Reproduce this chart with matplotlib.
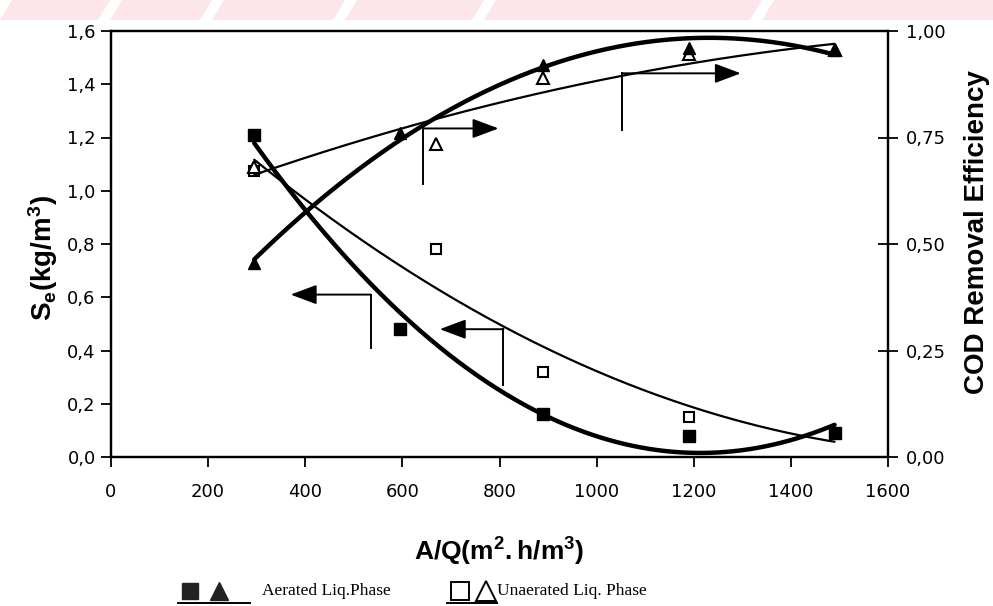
import numpy as np
import matplotlib.pyplot as plt
from matplotlib.lines import Line2D
from matplotlib.patches import Polygon
from matplotlib.ticker import FixedLocator, FuncFormatter

# A/Q (m2.h/m3) for the two runs
aq_aer = [295, 595, 890, 1190, 1490]
aq_unaer = [295, 670, 890, 1190, 1490]

# effluent COD Se (kg/m3)
se_aer = [1.21, 0.48, 0.16, 0.078, 0.09]
se_unaer = [1.074, 0.78, 0.32, 0.149, 0.09]

# COD removal efficiency
eff_aer = [0.455, 0.76, 0.92, 0.96, 0.955]
eff_unaer = [0.68, 0.735, 0.89, 0.945, 0.955]

x_ticks = [0, 200, 400, 600, 800, 1000, 1200, 1400, 1600]
se_ticks = [0.0, 0.2, 0.4, 0.6, 0.8, 1.0, 1.2, 1.4, 1.6]
eff_ticks = [0.0, 0.25, 0.50, 0.75, 1.00]

legend_labels = ["Aerated Liq.Phase", "Unaerated Liq. Phase"]

W, H = 993, 606
plt.rcParams['mathtext.fontset'] = 'custom'
plt.rcParams['mathtext.rm'] = 'Liberation Sans'
plt.rcParams['mathtext.bf'] = 'Liberation Sans:bold'

fig = plt.figure(figsize=(W / 100, H / 100), dpi=100)


def px(x, y):
    # pixel position -> figure fraction
    return x / W, 1 - y / H


# faint pink stripes along the top edge
pink = '#fce6e9'
cuts = [0, 110, 212, 345, 484, 762, 1010]
for i in range(len(cuts) - 1):
    a, b = cuts[i] + 12, cuts[i + 1]
    pts = [px(a, 0), px(b, 0), px(b - 12, 20), px(a - 12, 20)]
    fig.add_artist(Polygon(pts, closed=True, facecolor=pink, edgecolor='none',
                           transform=fig.transFigure, zorder=0))

L, R, T, B = 111, 888, 31, 457
ax = fig.add_axes([L / W, 1 - B / H, (R - L) / W, (B - T) / H])
ax2 = ax.twinx()

ax.set_xlim(0, 1600)
ax.set_ylim(0, 1.6)
ax2.set_ylim(0, 1.0)


def trend(axis, x, y, lw):
    c = np.polyfit(x, y, 2)
    xs = np.linspace(min(x), max(x), 300)
    axis.plot(xs, np.polyval(c, xs), color='black', lw=lw, solid_capstyle='round')


trend(ax, aq_aer, se_aer, 3.2)
trend(ax, aq_unaer, se_unaer, 1.6)
trend(ax2, aq_aer, eff_aer, 3.2)
trend(ax2, aq_unaer, eff_unaer, 1.6)

ax.plot(aq_unaer, se_unaer, 's', ms=7.5, mfc='white', mec='black', mew=1.5, zorder=4)
ax.plot(aq_aer, se_aer, 's', ms=8.5, color='black', zorder=5)
ax2.plot(aq_unaer, eff_unaer, '^', ms=9, mfc='white', mec='black', mew=1.5, zorder=4)
ax2.plot(aq_aer, eff_aer, '^', ms=9, color='black', zorder=5)


def l_arrow(x0, y_top, y_bot, x_tip):
    ax.plot([x0, x0], [y_bot, y_top], color='black', lw=1.4)
    ax.annotate('', xy=(x_tip, y_top), xytext=(x0, y_top),
                arrowprops=dict(arrowstyle='-|>,head_length=0.8,head_width=0.3',
                                color='black', lw=1.4, shrinkA=0, shrinkB=0,
                                mutation_scale=20))


l_arrow(643, 1.234, 1.027, 798)
l_arrow(1052, 1.441, 1.228, 1297)
l_arrow(535, 0.61, 0.41, 370)
l_arrow(808, 0.48, 0.27, 677)

comma = FuncFormatter(lambda v, p: ('%.1f' % v).replace('.', ','))
comma2 = FuncFormatter(lambda v, p: ('%.2f' % v).replace('.', ','))
ax.xaxis.set_major_locator(FixedLocator(x_ticks))
ax.yaxis.set_major_locator(FixedLocator(se_ticks))
ax.yaxis.set_major_formatter(comma)
ax2.yaxis.set_major_locator(FixedLocator(eff_ticks))
ax2.yaxis.set_major_formatter(comma2)

for lab in ax.get_xticklabels() + ax.get_yticklabels() + ax2.get_yticklabels():
    lab.set_fontfamily('DejaVu Sans')
    lab.set_fontsize(13)

ax.tick_params(axis='x', direction='out', length=7, width=1.3, pad=12)
ax.tick_params(axis='y', direction='out', length=7, width=1.3, pad=4)
ax2.tick_params(axis='y', direction='inout', length=14, width=1.3, pad=6)
for a in (ax, ax2):
    for s in a.spines.values():
        s.set_linewidth(1.6)

lab_font = dict(family='Liberation Sans', weight='bold')
ax.set_ylabel(r'$\mathbf{S_e(kg/m^3)}$', size=20, va='center', **lab_font)
ax.yaxis.set_label_coords(-0.088, 0.467)
ax2.set_ylabel('COD Removal Efficiency', rotation=90, size=20, va='center', **lab_font)
ax2.yaxis.set_label_coords(1.114, 0.528)
ax.set_xlabel(r'$\mathbf{A/Q(m^2{.}h/m^3)}$', size=19, **lab_font)
ax.xaxis.set_label_coords(0.5, -0.185)

# legend row below the x label
ly = 591
serif = dict(family='Liberation Serif', size=12.5)
fig.add_artist(Line2D(*zip(px(190, ly)), marker='s', ms=12, color='#222222',
                      transform=fig.transFigure))
fig.add_artist(Line2D(*zip(px(219, ly)), marker='^', ms=13, color='#222222',
                      transform=fig.transFigure))
fig.text(*px(262, ly), legend_labels[0], va='center', **serif)
fig.add_artist(Line2D(*zip(px(460, ly)), marker='s', ms=13, mfc='white', mec='black',
                      mew=1.4, transform=fig.transFigure))
fig.add_artist(Line2D(*zip(px(486, ly)), marker='^', ms=14, mfc='white', mec='black',
                      mew=1.4, transform=fig.transFigure))
fig.text(*px(497, ly), legend_labels[1], va='center', **serif)
for x0, x1 in [(178, 250), (447, 497)]:
    fig.add_artist(Line2D([x0 / W, x1 / W], [1 - 603 / H] * 2, color='black', lw=1.4,
                          transform=fig.transFigure))

fig.savefig('out.png', dpi=100)
